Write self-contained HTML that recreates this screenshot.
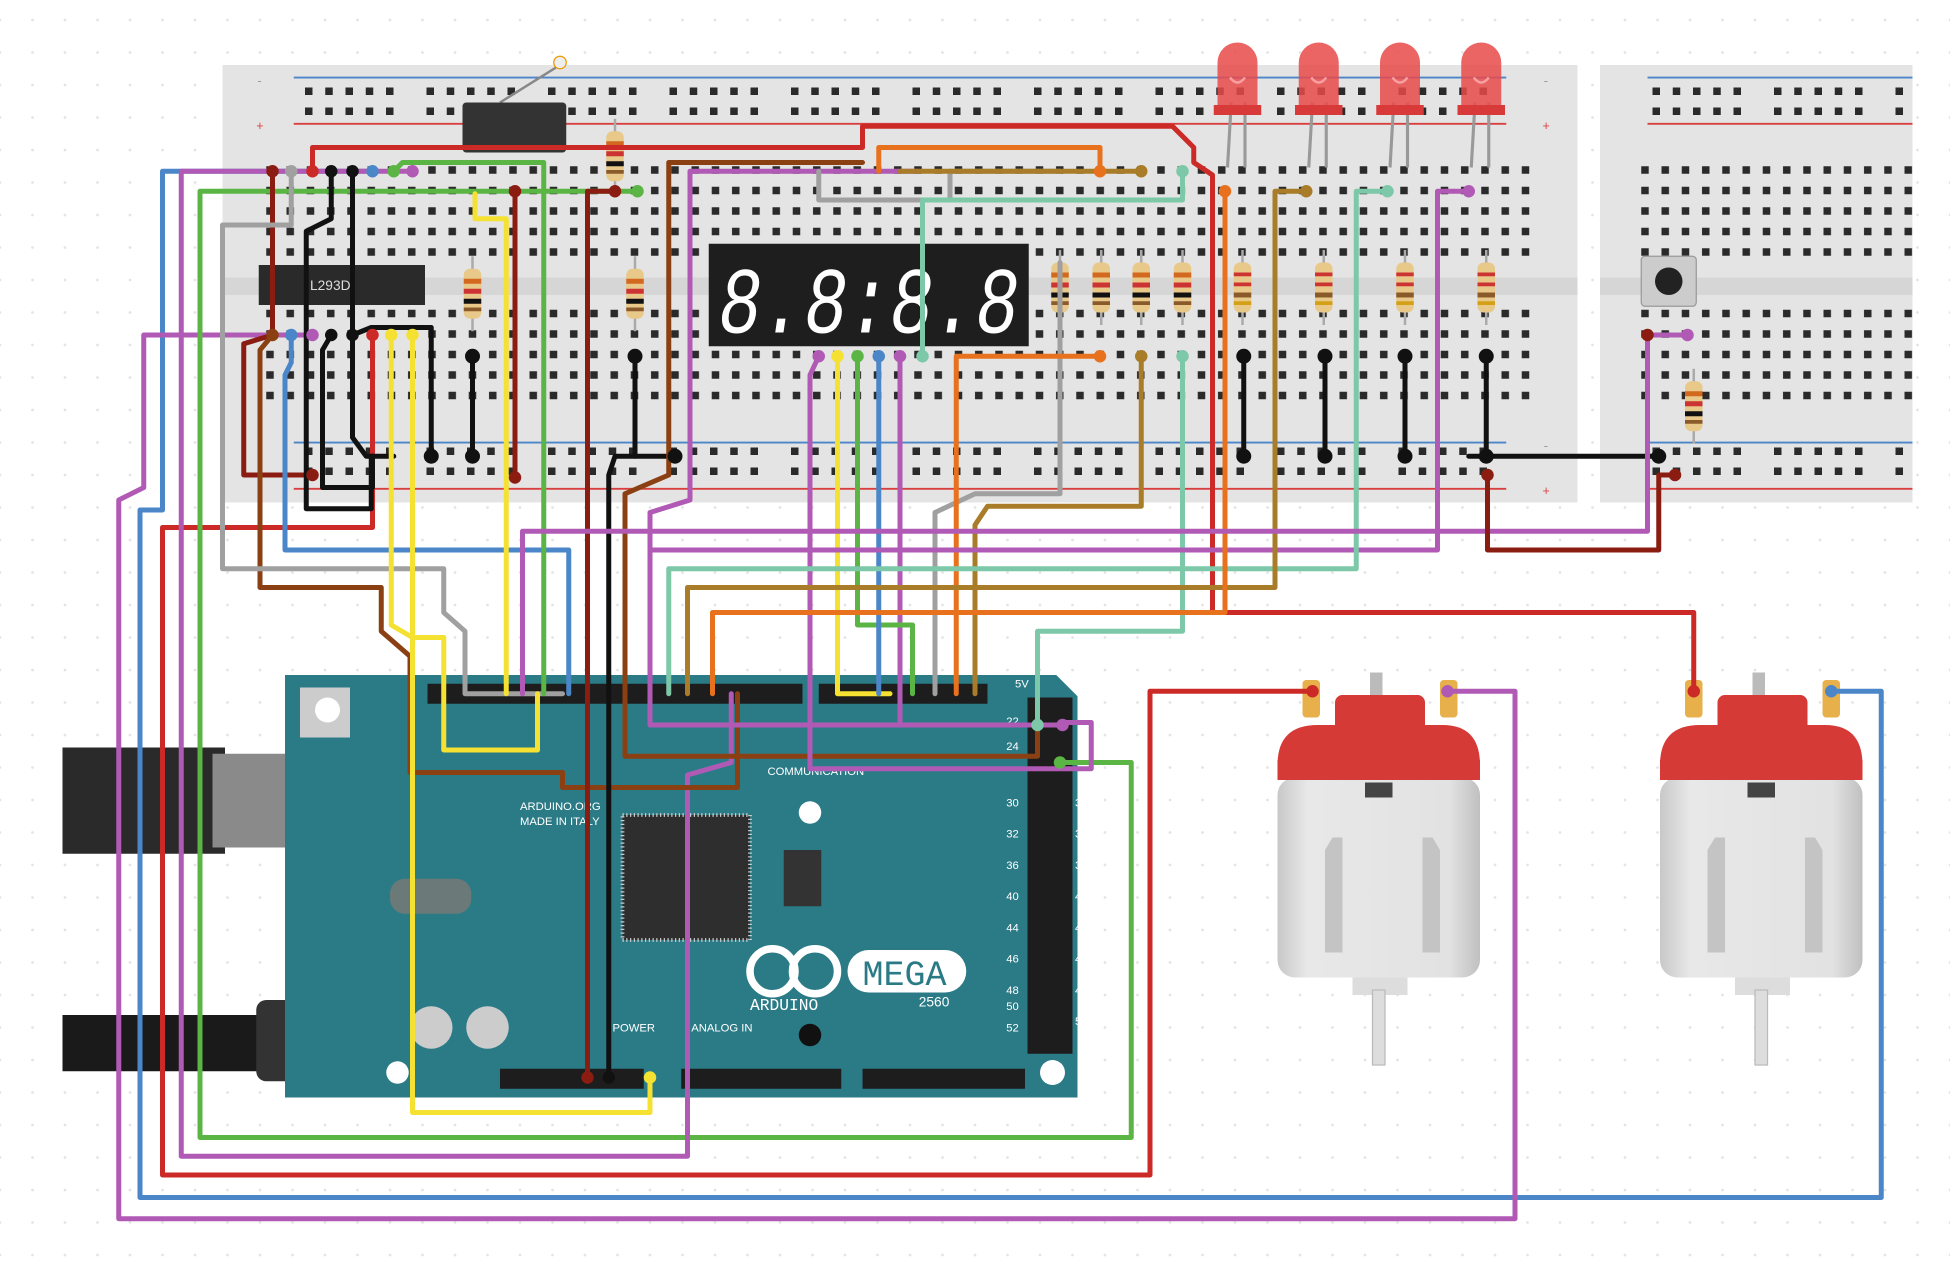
<!DOCTYPE html>
<html><head><meta charset="utf-8"><style>html,body{margin:0;padding:0;background:#fff}svg{display:block}</style></head>
<body>
<svg width="1950" height="1278" viewBox="0 0 1560 1022.4" xmlns="http://www.w3.org/2000/svg" font-family="Liberation Sans, sans-serif">
<defs>
<pattern id="bg" width="26" height="26" patternUnits="userSpaceOnUse" x="50" y="40"><circle cx="2" cy="2" r="1.1" fill="#e4e4e4"/></pattern>
<pattern id="hm" width="16.2" height="16.4" patternUnits="userSpaceOnUse" x="209" y="129"><rect x="4" y="4" width="6" height="6" fill="#2a2a2a"/></pattern>
<pattern id="hm2" width="16.2" height="16.4" patternUnits="userSpaceOnUse" x="1309" y="129"><rect x="4" y="4" width="6" height="6" fill="#2a2a2a"/></pattern>
<pattern id="hr" width="97.2" height="16" patternUnits="userSpaceOnUse" x="240" y="66"><rect x="4" y="4" width="6" height="6" fill="#2a2a2a"/><rect x="20.2" y="4" width="6" height="6" fill="#2a2a2a"/><rect x="36.4" y="4" width="6" height="6" fill="#2a2a2a"/><rect x="52.6" y="4" width="6" height="6" fill="#2a2a2a"/><rect x="68.8" y="4" width="6" height="6" fill="#2a2a2a"/></pattern>
<pattern id="hr2" width="97.2" height="16" patternUnits="userSpaceOnUse" x="1318" y="66"><rect x="4" y="4" width="6" height="6" fill="#2a2a2a"/><rect x="20.2" y="4" width="6" height="6" fill="#2a2a2a"/><rect x="36.4" y="4" width="6" height="6" fill="#2a2a2a"/><rect x="52.6" y="4" width="6" height="6" fill="#2a2a2a"/><rect x="68.8" y="4" width="6" height="6" fill="#2a2a2a"/></pattern>
<linearGradient id="mg" x1="0" x2="1"><stop offset="0" stop-color="#c8c8c8"/><stop offset=".15" stop-color="#e8e8e8"/><stop offset=".85" stop-color="#e2e2e2"/><stop offset="1" stop-color="#c0c0c0"/></linearGradient>
<g id="res"><line x1="0" y1="-30" x2="0" y2="30" stroke="#aaa" stroke-width="2"/><rect x="-7" y="-20" width="14" height="40" rx="5" fill="#e8c98a"/><rect x="-7" y="-12" width="14" height="4" fill="#d2691e"/><rect x="-7" y="-4" width="14" height="4" fill="#c33"/><rect x="-7" y="4" width="14" height="4" fill="#111"/><rect x="-7" y="11" width="14" height="3" fill="#8b5a2b"/></g>
<g id="res2"><line x1="0" y1="-30" x2="0" y2="30" stroke="#aaa" stroke-width="2"/><rect x="-7" y="-20" width="14" height="40" rx="5" fill="#e8c98a"/><rect x="-7" y="-12" width="14" height="3" fill="#c33"/><rect x="-7" y="-4" width="14" height="3" fill="#c33"/><rect x="-7" y="4" width="14" height="4" fill="#8b5a2b"/><rect x="-7" y="11" width="14" height="3" fill="#d4a017"/></g>
<g id="led"><line x1="-5" y1="40" x2="-8" y2="92" stroke="#999" stroke-width="2.5"/><line x1="6" y1="40" x2="6" y2="92" stroke="#999" stroke-width="2.5"/><path d="M-16,45 V8 A16,16 0 0 1 16,8 V45 Z" fill="#e84a4a" opacity=".85"/><rect x="-19" y="42" width="38" height="8" fill="#d83a3a"/><path d="M-6,20 q6,8 12,0" stroke="#f8a0a0" stroke-width="2" fill="none"/></g>
<g id="motor"><rect x="48" y="-14" width="10" height="20" fill="#bbb"/><rect x="-6" y="-8" width="14" height="30" rx="3" fill="#e8b04a"/><rect x="104" y="-8" width="14" height="30" rx="3" fill="#e8b04a"/><rect x="20" y="4" width="72" height="30" rx="6" fill="#d63a36"/><path d="M-26,60 Q-26,28 6,28 H106 Q136,28 136,60 V72 H-26Z" fill="#d63a36"/><rect x="-26" y="70" width="162" height="160" rx="14" fill="url(#mg)"/><rect x="-26" y="56" width="162" height="16" fill="#d63a36"/><rect x="44" y="74" width="22" height="12" fill="#444"/><path d="M12,128 L18,118 H26 V210 H12Z M98,118 L104,128 V210 H90 V118Z" fill="#c4c4c4"/><rect x="34" y="230" width="44" height="14" fill="#ddd"/><rect x="50" y="240" width="10" height="60" fill="#ddd" stroke="#bbb"/></g>
</defs>
<rect width="1560" height="1022.4" fill="#fff"/>
<rect width="1560" height="1022.4" fill="url(#bg)"/>

<!-- breadboard 1 -->
<rect x="178" y="52" width="1084" height="350" fill="#e4e4e4"/>
<rect x="178" y="222" width="1084" height="14" fill="#d6d6d6"/>
<line x1="235" y1="62" x2="1205" y2="62" stroke="#4a86c8" stroke-width="1.5"/>
<line x1="235" y1="99" x2="1205" y2="99" stroke="#d84040" stroke-width="1.5"/>
<line x1="235" y1="354" x2="1205" y2="354" stroke="#4a86c8" stroke-width="1.5"/>
<line x1="235" y1="391" x2="1205" y2="391" stroke="#d84040" stroke-width="1.5"/>
<rect x="240" y="66" width="970" height="32" fill="url(#hr)"/>
<rect x="240" y="356" width="970" height="32" fill="url(#hr)"/>
<rect x="209" y="129" width="1024" height="82" fill="url(#hm)"/>
<rect x="209" y="243" width="1024" height="82" fill="url(#hm)"/>
<g font-size="10" fill="#999"><text x="206" y="68">-</text><text x="205" y="104" fill="#d44">+</text><text x="1235" y="68">-</text><text x="1234" y="104" fill="#d44">+</text><text x="1235" y="360">-</text><text x="1234" y="396" fill="#d44">+</text></g>
<!-- breadboard 2 -->
<rect x="1280" y="52" width="250" height="350" fill="#e4e4e4"/>
<rect x="1280" y="222" width="250" height="14" fill="#d6d6d6"/>
<line x1="1318" y1="62" x2="1530" y2="62" stroke="#4a86c8" stroke-width="1.5"/>
<line x1="1318" y1="99" x2="1530" y2="99" stroke="#d84040" stroke-width="1.5"/>
<line x1="1318" y1="354" x2="1530" y2="354" stroke="#4a86c8" stroke-width="1.5"/>
<line x1="1318" y1="391" x2="1530" y2="391" stroke="#d84040" stroke-width="1.5"/>
<rect x="1318" y="66" width="212" height="32" fill="url(#hr2)"/>
<rect x="1318" y="356" width="212" height="32" fill="url(#hr2)"/>
<rect x="1309" y="129" width="221" height="82" fill="url(#hm2)"/>
<rect x="1309" y="243" width="221" height="82" fill="url(#hm2)"/>

<!-- switch -->
<line x1="400" y1="82" x2="448" y2="52" stroke="#888" stroke-width="2"/><circle cx="448" cy="50" r="5" fill="#eee" stroke="#e90"/>
<rect x="370" y="82" width="83" height="40" rx="3" fill="#333"/>
<!-- L293D -->
<rect x="207" y="212" width="133" height="32" fill="#2a2a2a"/><text x="248" y="232" font-size="11" fill="#ddd">L293D</text>
<!-- display -->
<rect x="567" y="195" width="256" height="82" fill="#1e1e1e"/>
<text x="575" y="266" font-size="76" font-style="italic" fill="#fff" font-family="Liberation Mono, monospace" textLength="240" lengthAdjust="spacingAndGlyphs">8.8:8.8</text>
<!-- resistors -->
<use href="#res" x="378" y="235"/><use href="#res" x="508" y="235"/><use href="#res" x="492" y="125"/>
<use href="#res" x="848" y="230"/><use href="#res" x="881" y="230"/><use href="#res" x="913" y="230"/><use href="#res" x="946" y="230"/>
<use href="#res2" x="994" y="230"/><use href="#res2" x="1059" y="230"/><use href="#res2" x="1124" y="230"/><use href="#res2" x="1189" y="230"/>
<use href="#res" x="1355" y="325"/>
<!-- button -->
<rect x="1313" y="205" width="44" height="40" rx="3" fill="#ccc" stroke="#999"/><circle cx="1335" cy="225" r="11" fill="#222"/>
<!-- LEDs -->
<use href="#led" x="990" y="42"/><use href="#led" x="1055" y="42"/><use href="#led" x="1120" y="42"/><use href="#led" x="1185" y="42"/>

<!-- Arduino -->
<rect x="50" y="598" width="130" height="85" fill="#2a2a2a"/><rect x="170" y="603" width="115" height="75" fill="#8a8a8a"/>
<rect x="50" y="812" width="170" height="45" fill="#1a1a1a"/><rect x="205" y="800" width="105" height="65" rx="8" fill="#333"/>
<path d="M228,540 H845 L862,557 V878 H228Z" fill="#2b7b87"/>
<rect x="240" y="550" width="40" height="40" fill="#ccc"/><circle cx="262" cy="568" r="10" fill="#fff"/>
<rect x="342" y="547" width="300" height="16" fill="#1d1d1d"/><rect x="655" y="547" width="135" height="16" fill="#1d1d1d"/>
<rect x="822" y="558" width="36" height="285" fill="#1d1d1d"/>
<rect x="400" y="855" width="115" height="16" fill="#1d1d1d"/><rect x="545" y="855" width="128" height="16" fill="#1d1d1d"/><rect x="690" y="855" width="130" height="16" fill="#1d1d1d"/>
<rect x="498" y="652" width="102" height="100" fill="#2e2e2e" stroke="#ccc" stroke-width="3" stroke-dasharray="1 2"/>
<rect x="312" y="703" width="65" height="28" rx="12" fill="#6b7a78"/>
<circle cx="345" cy="822" r="17" fill="#ccc"/><circle cx="390" cy="822" r="17" fill="#ccc"/>
<circle cx="648" cy="650" r="9" fill="#fff"/><circle cx="648" cy="828" r="9" fill="#111"/><circle cx="842" cy="858" r="10" fill="#fff"/><circle cx="318" cy="858" r="9" fill="#fff"/>
<rect x="627" y="680" width="30" height="45" fill="#333"/>
<g fill="none" stroke="#fff" stroke-width="6"><circle cx="618" cy="777" r="18"/><circle cx="652" cy="777" r="18"/></g>
<rect x="678" y="760" width="95" height="34" rx="17" fill="#fff"/>
<text x="690" y="788" font-size="28" fill="#2b7b87" font-family="Liberation Mono, monospace">MEGA</text>
<text x="600" y="808" font-size="13" fill="#fff" font-family="Liberation Mono, monospace">ARDUINO</text>
<text x="735" y="805" font-size="11" fill="#fff">2560</text>
<text x="614" y="620" font-size="9" fill="#fff">COMMUNICATION</text>
<text x="490" y="825" font-size="9" fill="#fff">POWER</text><text x="553" y="825" font-size="9" fill="#fff">ANALOG IN</text>
<text x="416" y="648" font-size="9" fill="#fff">ARDUINO.ORG</text><text x="416" y="660" font-size="9" fill="#fff">MADE IN ITALY</text>
<g font-size="9" fill="#fff"><text x="805" y="580">22</text><text x="805" y="600">24</text><text x="805" y="645">30</text><text x="805" y="670">32</text><text x="805" y="695">36</text><text x="805" y="720">40</text><text x="805" y="745">44</text><text x="805" y="770">46</text><text x="805" y="795">48</text><text x="805" y="808">50</text><text x="805" y="825">52</text><text x="860" y="645">31</text><text x="860" y="670">33</text><text x="860" y="695">37</text><text x="860" y="720">41</text><text x="860" y="745">45</text><text x="860" y="770">47</text><text x="860" y="795">49</text><text x="860" y="820">53</text><text x="812" y="550">5V</text></g>

<!-- motors -->
<use href="#motor" x="1048" y="552"/><use href="#motor" x="1354" y="552"/>

<!-- wires -->
<g fill="none" stroke-width="4" stroke-linejoin="round" stroke-linecap="round">
<path stroke="#cc2a27" d="M250,137 V118 H690 V101 H938 L955,118 V130 L970,140 V490 H1355 V553"/>
<path stroke="#cc2a27" d="M298,268 V422 H130 V940 H920 V553 H1050"/>
<path stroke="#4a86c8" d="M298,137 H130 V408 H112 V958 H1505 V553 H1465"/>
<path stroke="#b05ab5" d="M250,268 H115 V390 L95,400 V975 H1212 V553 H1160"/>
<path stroke="#5ab545" d="M510,153 H160 V910 H905 V610 H848"/>
<path stroke="#b05ab5" d="M330,137 H145 V925 H550 V620 L585,610 V555"/>
<path stroke="#8b1c12" d="M218,137 V268 L195,275 V380 H250"/>
<path stroke="#8b4013" d="M218,268 L208,280 V470 H305 V505 L328,525 V618 H450 V630 H590 V555"/>
<path stroke="#a0a0a0" d="M233,137 V180 H178 V455 H355 V490 L372,505 V555 H450"/>
<path stroke="#4a86c8" d="M233,268 V290 L228,300 V440 H455 V555"/>
<path stroke="#111" d="M265,137 V175 L245,185 V407 H297 V365"/>
<path stroke="#111" d="M282,137 V350 L293,365 H315"/>
<path stroke="#111" d="M265,268 L258,280 V390 H298 V365"/>
<path stroke="#111" d="M282,268 L297,262 H345 V365"/>
<path stroke="#f5e132" d="M313,268 V500 L330,510 H355 V600 H430 V555"/>
<path stroke="#f5e132" d="M330,268 V890 H520 V862"/>
<path stroke="#f5e132" d="M380,155 V175 H405 V555"/>
<path stroke="#8b1c12" d="M412,153 V382"/>
<path stroke="#5ab545" d="M315,137 L322,130 H435 V555"/>
<path stroke="#111" d="M378,285 V365 M508,285 V365 H540 M995,285 V365 M1060,285 V365 M1124,285 V365 M1189,285 V365 L1175,365 H1327"/>
<path stroke="#8b1c12" d="M492,153 H470 V862"/>
<path stroke="#111" d="M508,365 H492 L487,380 V862"/>
<path stroke="#8b4013" d="M690,130 H535 V380 L500,395 V605 H830 V560"/>
<path stroke="#b05ab5" d="M735,137 H552 V400 L520,410 V580 H850"/>
<path stroke="#a0a0a0" d="M655,137 V160 H760 V137 H848 M848,210 V395 H780 L748,410 V555"/>
<path stroke="#e8711e" d="M703,137 V118 H880 V137 M880,285 H765 V555"/>
<path stroke="#a87c28" d="M720,137 H913 M913,285 V405 H790 L780,420 V555"/>
<path stroke="#7cc8a8" d="M946,137 V160 H738 V285 M946,285 V505 H830 V580"/>
<path stroke="#b05ab5" d="M655,285 L648,300 V615 H873 V578 H850"/>
<path stroke="#b05ab5" d="M720,285 V580 H850"/>
<path stroke="#f5e132" d="M670,285 V555 H712"/>
<path stroke="#5ab545" d="M686,285 V500 H730 V555"/>
<path stroke="#4a86c8" d="M703,285 V555"/>
<path stroke="#b05ab5" d="M1175,153 H1150 V440 H520 V555"/>
<path stroke="#7cc8a8" d="M1110,153 H1085 V455 H535 V555"/>
<path stroke="#a87c28" d="M1045,153 H1020 V470 H550 V555"/>
<path stroke="#e8711e" d="M980,153 V490 H570 V555"/>
<path stroke="#b05ab5" d="M1350,268 H1318 V425 H418 V555"/>
<path stroke="#8b1c12" d="M1190,380 V440 H1327 V380 H1340"/>
</g>
<g>
<circle cx="250" cy="137" r="5" fill="#cc2a27"/><circle cx="298" cy="268" r="5" fill="#cc2a27"/><circle cx="298" cy="137" r="5" fill="#4a86c8"/><circle cx="250" cy="268" r="5" fill="#b05ab5"/><circle cx="510" cy="153" r="5" fill="#5ab545"/><circle cx="330" cy="137" r="5" fill="#b05ab5"/><circle cx="218" cy="137" r="5" fill="#8b1c12"/><circle cx="250" cy="380" r="5" fill="#8b1c12"/><circle cx="218" cy="268" r="5" fill="#8b4013"/><circle cx="233" cy="137" r="5" fill="#a0a0a0"/><circle cx="233" cy="268" r="5" fill="#4a86c8"/>
<circle cx="265" cy="137" r="5" fill="#111"/><circle cx="282" cy="137" r="5" fill="#111"/><circle cx="265" cy="268" r="5" fill="#111"/><circle cx="282" cy="268" r="5" fill="#111"/><circle cx="313" cy="268" r="5" fill="#f5e132"/><circle cx="330" cy="268" r="5" fill="#f5e132"/><circle cx="412" cy="153" r="5" fill="#8b1c12"/><circle cx="412" cy="382" r="5" fill="#8b1c12"/><circle cx="315" cy="137" r="5" fill="#5ab545"/>
<circle cx="378" cy="285" r="6" fill="#111"/><circle cx="378" cy="365" r="6" fill="#111"/><circle cx="508" cy="285" r="6" fill="#111"/><circle cx="540" cy="365" r="6" fill="#111"/><circle cx="995" cy="285" r="6" fill="#111"/><circle cx="995" cy="365" r="6" fill="#111"/><circle cx="1060" cy="285" r="6" fill="#111"/><circle cx="1060" cy="365" r="6" fill="#111"/><circle cx="1124" cy="285" r="6" fill="#111"/><circle cx="1124" cy="365" r="6" fill="#111"/><circle cx="1189" cy="285" r="6" fill="#111"/><circle cx="1189" cy="365" r="6" fill="#111"/><circle cx="1327" cy="365" r="6" fill="#111"/><circle cx="345" cy="365" r="6" fill="#111"/>
<circle cx="492" cy="153" r="5" fill="#8b1c12"/><circle cx="470" cy="862" r="5" fill="#8b1c12"/><circle cx="487" cy="862" r="5" fill="#111"/><circle cx="520" cy="862" r="5" fill="#f5e132"/>
<circle cx="880" cy="137" r="5" fill="#e8711e"/><circle cx="880" cy="285" r="5" fill="#e8711e"/><circle cx="913" cy="137" r="5" fill="#a87c28"/><circle cx="913" cy="285" r="5" fill="#a87c28"/><circle cx="946" cy="137" r="5" fill="#7cc8a8"/><circle cx="946" cy="285" r="5" fill="#7cc8a8"/><circle cx="738" cy="285" r="5" fill="#7cc8a8"/><circle cx="655" cy="285" r="5" fill="#b05ab5"/><circle cx="720" cy="285" r="5" fill="#b05ab5"/><circle cx="670" cy="285" r="5" fill="#f5e132"/><circle cx="686" cy="285" r="5" fill="#5ab545"/><circle cx="703" cy="285" r="5" fill="#4a86c8"/>
<circle cx="1175" cy="153" r="5" fill="#b05ab5"/><circle cx="1110" cy="153" r="5" fill="#7cc8a8"/><circle cx="1045" cy="153" r="5" fill="#a87c28"/><circle cx="980" cy="153" r="5" fill="#e8711e"/><circle cx="1350" cy="268" r="5" fill="#b05ab5"/><circle cx="1318" cy="268" r="5" fill="#8b1c12"/><circle cx="1190" cy="380" r="5" fill="#8b1c12"/><circle cx="1340" cy="380" r="5" fill="#8b1c12"/>
<circle cx="1050" cy="553" r="5" fill="#cc2a27"/><circle cx="1158" cy="553" r="5" fill="#b05ab5"/><circle cx="1355" cy="553" r="5" fill="#cc2a27"/><circle cx="1465" cy="553" r="5" fill="#4a86c8"/>
<circle cx="850" cy="580" r="5" fill="#b05ab5"/><circle cx="848" cy="610" r="5" fill="#5ab545"/><circle cx="830" cy="580" r="5" fill="#7cc8a8"/>
</g>
</svg>
</body></html>
